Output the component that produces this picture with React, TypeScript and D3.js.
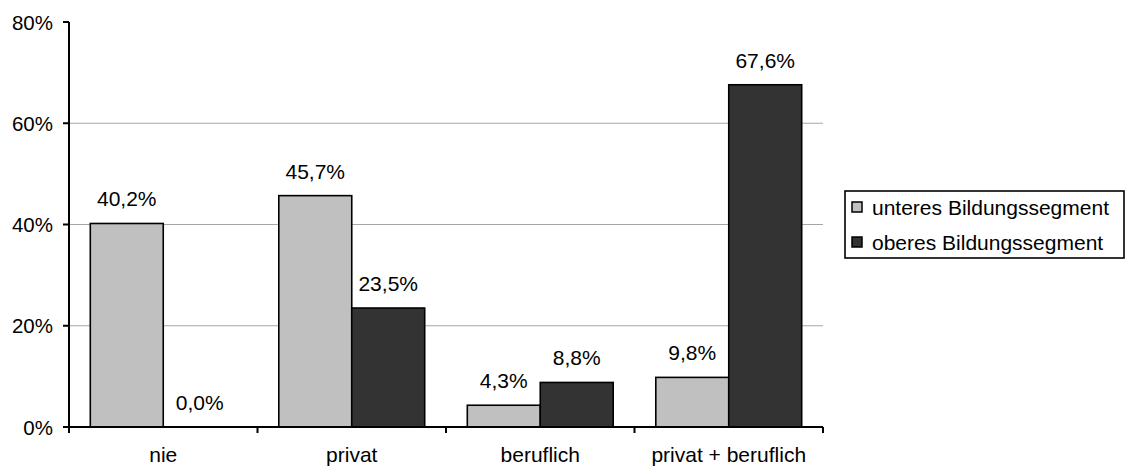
import React from "react";
import * as d3 from "d3";

const categories = ["nie", "privat", "beruflich", "privat + beruflich"];
const seriesNames = ["unteres Bildungssegment", "oberes Bildungssegment"];
const unteres = [40.2, 45.7, 4.3, 9.8];
const oberes = [0.0, 23.5, 8.8, 67.6];
const yTicks = [0, 20, 40, 60, 80];

const seriesValues = [unteres, oberes];
const seriesFill = ["#c0c0c0", "#333333"];

const W = 1128;
const H = 468;
const left = 69;
const right = 823;
const top = 22;
const bottom = 427;
const FONT = "'Liberation Sans', Arial, sans-serif";

const fmt = (v: number) => v.toFixed(1).replace(".", ",") + "%";

export default function App() {
  const x0 = d3.scaleBand<string>().domain(categories).range([left, right]).padding(0);
  const bw = x0.bandwidth();
  const x1 = d3
    .scaleBand<string>()
    .domain(seriesNames)
    .range([bw * 0.113, bw * 0.887])
    .padding(0);
  const y = d3.scaleLinear().domain([0, 80]).range([bottom, top]);

  return (
    <svg
      width={W}
      height={H}
      style={{ position: "absolute", left: 0, top: 0, background: "#fff" }}
      fontFamily={FONT}
    >
      <rect width={W} height={H} fill="#fff" />
      {/* horizontal gridlines */}
      {yTicks
        .filter((t) => t > 0 && t < 80)
        .map((t) => (
          <line key={"g" + t} x1={left} x2={right} y1={y(t)} y2={y(t)} stroke="#a6a6a6" strokeWidth={1} />
        ))}
      {/* bars */}
      {categories.map((c, i) => (
        <g key={c} transform={`translate(${x0(c)},0)`}>
          {seriesNames.map((s, j) => {
            const v = seriesValues[j][i];
            const bx = x1(s)!;
            return (
              <g key={s}>
                {v > 0 && (
                  <rect
                    x={bx}
                    y={y(v)}
                    width={x1.bandwidth()}
                    height={y(0) - y(v)}
                    fill={seriesFill[j]}
                    stroke="#000"
                    strokeWidth={1.6}
                  />
                )}
                <text
                  x={bx + x1.bandwidth() / 2}
                  y={y(v) - 17}
                  textAnchor="middle"
                  fontSize={21}
                  fill="#000"
                >
                  {fmt(v)}
                </text>
              </g>
            );
          })}
        </g>
      ))}
      {/* y axis */}
      <line x1={left} x2={left} y1={top} y2={bottom} stroke="#000" strokeWidth={2} />
      {yTicks.map((t) => (
        <g key={"t" + t}>
          <line x1={left - 6} x2={left} y1={y(t)} y2={y(t)} stroke="#000" strokeWidth={2} />
          <text x={53} y={y(t) + 7.5} textAnchor="end" fontSize={20.5} fill="#000">
            {t}%
          </text>
        </g>
      ))}
      {/* x axis */}
      <line x1={left} x2={right} y1={bottom} y2={bottom} stroke="#000" strokeWidth={2} />
      {categories.map((c) => (
        <line key={"xt" + c} x1={x0(c)!} x2={x0(c)!} y1={bottom} y2={bottom + 6} stroke="#000" strokeWidth={2} />
      ))}
      <line x1={right} x2={right} y1={bottom} y2={bottom + 6} stroke="#000" strokeWidth={2} />
      {categories.map((c) => (
        <text key={"xl" + c} x={x0(c)! + bw / 2} y={462} textAnchor="middle" fontSize={21} fill="#000">
          {c}
        </text>
      ))}
      {/* legend */}
      <rect x={845} y={191} width={279} height={67} fill="#fff" stroke="#000" strokeWidth={1.6} />
      {seriesNames.map((s, j) => (
        <g key={"lg" + s} transform={`translate(852,${207 + j * 35})`}>
          <rect x={0} y={-5} width={10} height={10} fill={seriesFill[j]} stroke="#000" strokeWidth={1.5} />
          <text x={20} y={7.5} fontSize={21} fill="#000">
            {s}
          </text>
        </g>
      ))}
    </svg>
  );
}
